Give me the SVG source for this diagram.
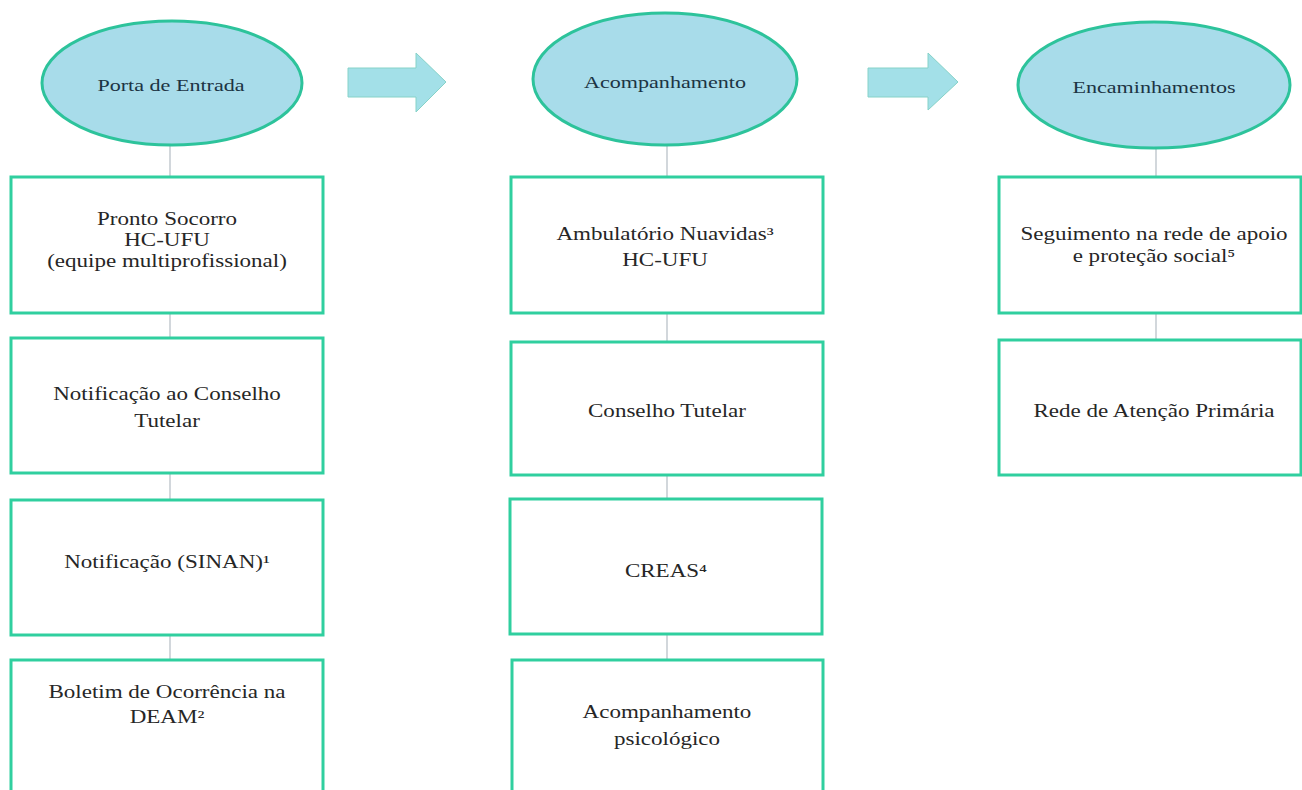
<svg xmlns="http://www.w3.org/2000/svg" width="1302" height="790" viewBox="0 0 1302 790">
<style>
.bg{fill:#ffffff}
.ell{fill:#a8dcea;stroke:#2dc39b;stroke-width:3}
.box{fill:#ffffff;stroke:#30cf9f;stroke-width:3}
.arr{fill:#a3e0e8;stroke:#86d2c8;stroke-width:1}
.con{stroke:#b4bcc4;stroke-width:1.2;fill:none}
.t{font-family:"Liberation Serif","Times New Roman",serif;font-size:18px;fill:#262626;text-anchor:middle}
.h{font-family:"Liberation Serif","Times New Roman",serif;font-size:17px;fill:#1c3444;text-anchor:middle}
</style>
<rect class="bg" x="0" y="0" width="1302" height="790"/>
<g id="connectors">
<line class="con" x1="170" y1="145" x2="170" y2="177"/>
<line class="con" x1="170" y1="313" x2="170" y2="338"/>
<line class="con" x1="170" y1="473" x2="170" y2="500"/>
<line class="con" x1="170" y1="635" x2="170" y2="660"/>
<line class="con" x1="667" y1="145" x2="667" y2="177"/>
<line class="con" x1="667" y1="313" x2="667" y2="342"/>
<line class="con" x1="667" y1="475" x2="667" y2="499"/>
<line class="con" x1="667" y1="634" x2="667" y2="660"/>
<line class="con" x1="1156" y1="148" x2="1156" y2="177"/>
<line class="con" x1="1156" y1="313" x2="1156" y2="340"/>
</g>
<g id="arrow1"><polygon class="arr" points="348,68 416,68 416,53 446,82 416,112 416,97 348,97"/></g>
<g id="arrow2"><polygon class="arr" points="868,68 928,68 928,53 958,82 928,110 928,97 868,97"/></g>
<g id="porta">
<ellipse class="ell" cx="172" cy="83" rx="130" ry="62"/>
<text class="h" transform="translate(171,0) scale(1.3,1)"><tspan x="0" y="91">Porta de Entrada</tspan></text>
</g>
<g id="acompanhamento">
<ellipse class="ell" cx="665" cy="79" rx="132" ry="66"/>
<text class="h" transform="translate(665,0) scale(1.3,1)"><tspan x="0" y="88">Acompanhamento</tspan></text>
</g>
<g id="encaminhamentos">
<ellipse class="ell" cx="1154" cy="85" rx="136" ry="63"/>
<text class="h" transform="translate(1154,0) scale(1.3,1)"><tspan x="0" y="93">Encaminhamentos</tspan></text>
</g>
<g id="pronto-socorro">
<rect class="box" x="11" y="177" width="312" height="136"/>
<text class="t" transform="translate(167,0) scale(1.28,1)"><tspan x="0" y="225">Pronto Socorro</tspan><tspan x="0" y="246">HC-UFU</tspan><tspan x="0" y="267">(equipe multiprofissional)</tspan></text>
</g>
<g id="notificacao-conselho">
<rect class="box" x="11" y="338" width="312" height="135"/>
<text class="t" transform="translate(167,0) scale(1.28,1)"><tspan x="0" y="400">Notificação ao Conselho</tspan><tspan x="0" y="427">Tutelar</tspan></text>
</g>
<g id="notificacao-sinan">
<rect class="box" x="11" y="500" width="312" height="135"/>
<text class="t" transform="translate(167,0) scale(1.28,1)"><tspan x="0" y="568">Notificação (SINAN)¹</tspan></text>
</g>
<g id="boletim">
<rect class="box" x="11" y="660" width="312" height="140"/>
<text class="t" transform="translate(167,0) scale(1.28,1)"><tspan x="0" y="698">Boletim de Ocorrência na</tspan><tspan x="0" y="723">DEAM²</tspan></text>
</g>
<g id="ambulatorio">
<rect class="box" x="511" y="177" width="312" height="136"/>
<text class="t" transform="translate(665,0) scale(1.28,1)"><tspan x="0" y="240">Ambulatório Nuavidas³</tspan><tspan x="0" y="266">HC-UFU</tspan></text>
</g>
<g id="conselho-tutelar">
<rect class="box" x="511" y="342" width="312" height="133"/>
<text class="t" transform="translate(667,0) scale(1.28,1)"><tspan x="0" y="417">Conselho Tutelar</tspan></text>
</g>
<g id="creas">
<rect class="box" x="510" y="499" width="312" height="135"/>
<text class="t" transform="translate(666,0) scale(1.28,1)"><tspan x="0" y="577">CREAS⁴</tspan></text>
</g>
<g id="acomp-psicologico">
<rect class="box" x="512" y="660" width="311" height="140"/>
<text class="t" transform="translate(667,0) scale(1.28,1)"><tspan x="0" y="718">Acompanhamento</tspan><tspan x="0" y="745">psicológico</tspan></text>
</g>
<g id="seguimento">
<rect class="box" x="999" y="177" width="302" height="136"/>
<text class="t" transform="translate(1154,0) scale(1.28,1)"><tspan x="0" y="240">Seguimento na rede de apoio</tspan><tspan x="0" y="262">e proteção social⁵</tspan></text>
</g>
<g id="rede-atencao">
<rect class="box" x="999" y="340" width="302" height="135"/>
<text class="t" transform="translate(1154,0) scale(1.28,1)"><tspan x="0" y="417">Rede de Atenção Primária</tspan></text>
</g>
</svg>
